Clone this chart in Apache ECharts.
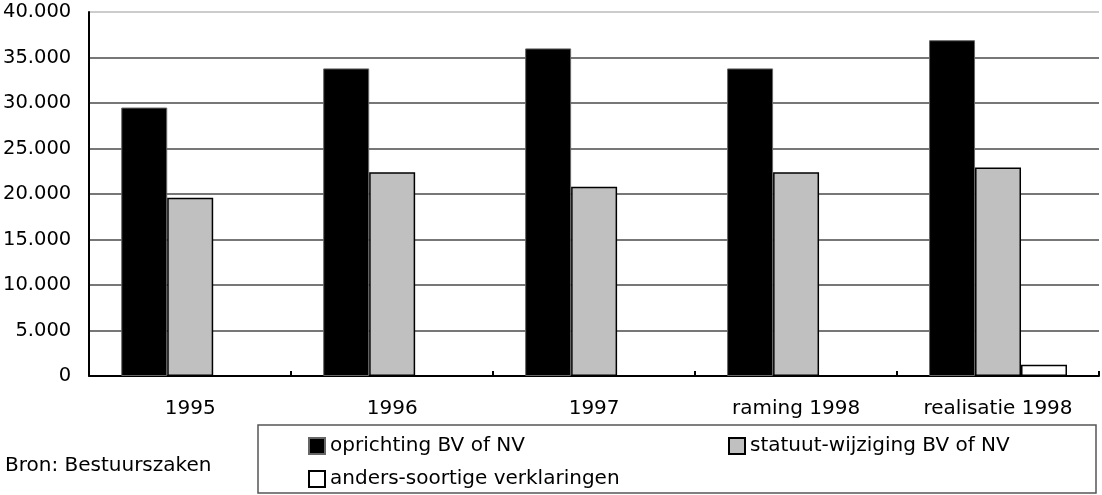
<!DOCTYPE html>
<html>
<head>
<meta charset="utf-8">
<script src="https://cdn.jsdelivr.net/npm/echarts@6/dist/echarts.min.js"></script>
<style>
html, body { margin: 0; padding: 0; background: #fff; }
#main { width: 1102px; height: 495px; }
</style>
</head>
<body>
<div id="main"></div>
<script>
// categorieen en waarden
var categories = ['1995', '1996', '1997', 'raming 1998', 'realisatie 1998'];
var oprichting = [29500, 33800, 36000, 33800, 36900];
var statuut = [19600, 22400, 20800, 22400, 22900];
var anders = [0, 0, 0, 0, 1250];
var seriesNames = ['oprichting BV of NV', 'statuut-wijziging BV of NV', 'anders-soortige verklaringen'];
var yTicks = [0, 5000, 10000, 15000, 20000, 25000, 30000, 35000, 40000];

var font = 'DejaVu Sans';

function fmt(v) {
  // duizendtallen met een punt
  return String(v).replace(/\B(?=(\d{3})+(?!\d))/g, '.');
}

// een legenda per item, zo staan ze op dezelfde plek als in het origineel
function legendItem(name, left, top) {
  return {
    data: [name],
    left: left, top: top,
    padding: 0,
    itemWidth: 16, itemHeight: 16,
    icon: 'rect',
    textStyle: { fontFamily: font, fontSize: 20, color: '#000' }
  };
}

var myChart = echarts.init(document.getElementById('main'));
myChart.setOption({
  animation: false,
  textStyle: { fontFamily: font },
  title: {
    text: 'Bron: Bestuurszaken',
    left: 0,
    top: 451,
    textStyle: { fontFamily: font, fontSize: 20, fontWeight: 'normal', color: '#000' }
  },
  grid: { left: 89, right: 3, top: 12, bottom: 119 },
  // kader om de legenda
  graphic: [{
    type: 'rect',
    shape: { x: 258, y: 425, width: 838, height: 68 },
    style: { fill: 'none', stroke: '#555', lineWidth: 1.5 }
  }],
  legend: [
    legendItem(seriesNames[0], 308, 436),
    legendItem(seriesNames[1], 728, 436),
    legendItem(seriesNames[2], 308, 469)
  ],
  xAxis: {
    type: 'category',
    data: categories,
    axisLine: { lineStyle: { color: '#000', width: 2 } },
    axisTick: { show: true, inside: true, length: 5, lineStyle: { color: '#000', width: 2 } },
    axisLabel: { margin: 23, fontFamily: font, fontSize: 20, color: '#000' }
  },
  yAxis: {
    type: 'value',
    min: yTicks[0],
    max: yTicks[yTicks.length - 1],
    interval: 5000,
    axisLine: { show: true, lineStyle: { color: '#000', width: 2 } },
    axisTick: { show: false },
    axisLabel: { margin: 18, fontFamily: font, fontSize: 19.5, color: '#000', formatter: fmt },
    splitLine: {
      lineStyle: {
        width: 2,
        color: ['#777', '#777', '#777', '#777', '#777', '#777', '#777', '#777', '#ccc']
      }
    }
  },
  series: [
    {
      name: seriesNames[0],
      type: 'bar',
      barGap: '0%',
      barCategoryGap: '31.7%',
      itemStyle: { color: '#000', borderColor: '#666', borderWidth: 1 },
      data: oprichting
    },
    {
      name: seriesNames[1],
      type: 'bar',
      barGap: '0%',
      barCategoryGap: '31.7%',
      itemStyle: { color: '#c0c0c0', borderColor: '#000', borderWidth: 1.5 },
      data: statuut
    },
    {
      name: seriesNames[2],
      type: 'bar',
      barGap: '0%',
      barCategoryGap: '31.7%',
      itemStyle: { color: '#fff', borderColor: '#000', borderWidth: 1.5 },
      data: anders
    }
  ]
});
</script>
</body>
</html>
